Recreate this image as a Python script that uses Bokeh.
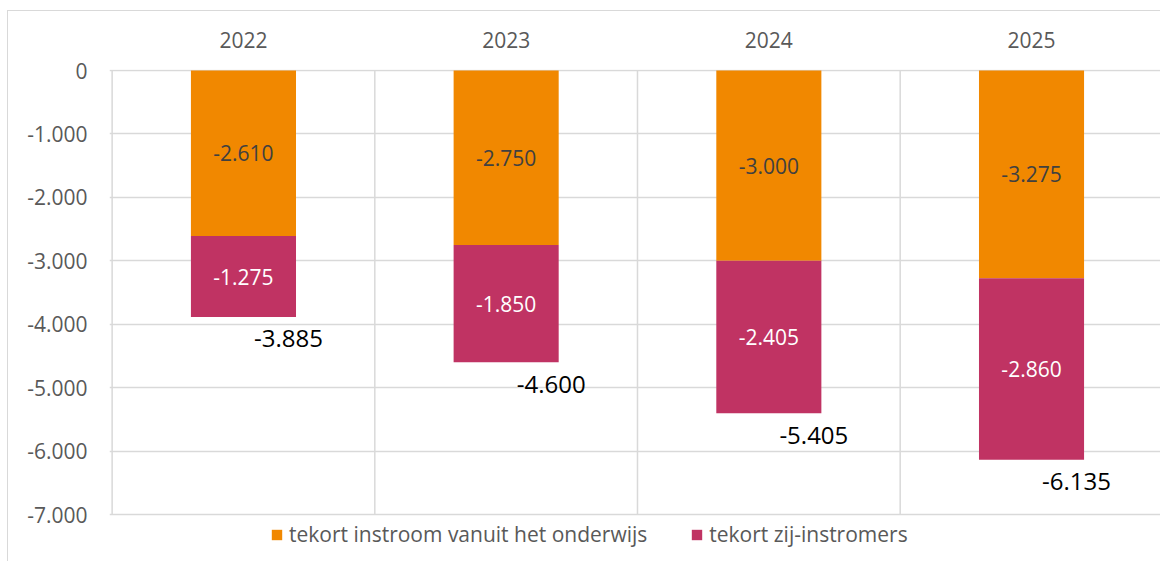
from bokeh.plotting import figure
from bokeh.models import ColumnDataSource, FixedTicker, Legend, LegendItem
from bokeh.core.properties import value
from bokeh.embed import file_html
from bokeh.resources import INLINE

years = ["2022", "2023", "2024", "2025"]
instroom = [-2610, -2750, -3000, -3275]
zij = [-1275, -1850, -2405, -2860]
totals = [-3885, -4600, -5405, -6135]
y_ticks = [0, -1000, -2000, -3000, -4000, -5000, -6000, -7000]
y_tick_labels = ["0", "-1.000", "-2.000", "-3.000", "-4.000", "-5.000", "-6.000", "-7.000"]
series_names = ["tekort instroom vanuit het onderwijs", "tekort zij-instromers"]

def fmt(v):
    return f"{v:,}".replace(",", ".")

xs = list(range(len(years)))
tops2 = [a + b for a, b in zip(instroom, zij)]
src = ColumnDataSource(dict(
    x=xs,
    instroom=instroom,
    zij_top=tops2,
    mid1=[a / 2 for a in instroom],
    mid2=[a + b / 2 for a, b in zip(instroom, zij)],
    lab1=[fmt(v) for v in instroom],
    lab2=[fmt(v) for v in zij],
    total=totals,
    labt=[fmt(v) for v in totals],
    zero=[0] * len(years),
))

# category boundary lines (vertical gridlines) from 0 down to the axis minimum
bounds = [i - 0.5 for i in xs]
grid_src = ColumnDataSource(dict(x=bounds, y0=[y_ticks[0]] * len(bounds),
                                 y1=[y_ticks[-1]] * len(bounds)))

FONT = "Open Sans"
GRAY = "#595959"
GRID = "#D9D9D9"
ORANGE = "#F18800"
MAGENTA = "#C03363"

p = figure(width=1160, height=561, output_backend="svg", toolbar_location=None,
           x_range=(-0.51, 3.491), y_range=(-7740.7, 16), x_axis_location="above",
           min_border_left=109, min_border_top=69, min_border_right=0, min_border_bottom=0)
p.outline_line_color = None
p.background_fill_color = "white"
p.border_fill_alpha = 0
p.styles = {
    "background-color": "white",
    "background-image": "linear-gradient(#D9D9D9,#D9D9D9), linear-gradient(#D9D9D9,#D9D9D9)",
    "background-position": "7px 10px, 7px 10px",
    "background-size": "1px 100%, 100% 1px",
    "background-repeat": "no-repeat",
}

p.segment(x0="x", y0="y0", x1="x", y1="y1", source=grid_src,
          line_color=GRID, line_width=1.5)

r1 = p.vbar(x="x", width=0.4, bottom="zero", top="instroom", source=src,
            fill_color=ORANGE, line_color=None)
r2 = p.vbar(x="x", width=0.4, bottom="instroom", top="zij_top", source=src,
            fill_color=MAGENTA, line_color=None)

p.text(x="x", y="mid1", text="lab1", source=src, text_font=value(FONT),
       text_font_size="21px", text_color="#404040", text_align="center",
       text_baseline="middle")
p.text(x="x", y="mid2", text="lab2", source=src, text_font=value(FONT),
       text_font_size="21px", text_color="white", text_align="center",
       text_baseline="middle")
p.text(x="x", y="total", text="labt", source=src, text_font=value(FONT),
       text_font_size="24px", text_color="black", text_align="center",
       text_baseline="middle", x_offset=45, y_offset=22)

# axes
xa = p.xaxis[0]
xa.ticker = FixedTicker(ticks=xs)
xa.major_label_overrides = {i: y for i, y in zip(xs, years)}
xa.axis_line_color = None
xa.major_tick_line_color = None
xa.minor_tick_line_color = None
xa.major_label_text_font = FONT
xa.major_label_text_font_size = "21px"
xa.major_label_text_color = GRAY
xa.major_label_standoff = 16

ya = p.yaxis[0]
ya.ticker = FixedTicker(ticks=y_ticks)
ya.major_label_overrides = {t: l for t, l in zip(y_ticks, y_tick_labels)}
ya.axis_line_color = None
ya.major_tick_line_color = None
ya.minor_tick_line_color = None
ya.major_label_text_font = FONT
ya.major_label_text_font_size = "21px"
ya.major_label_text_color = GRAY
ya.major_label_standoff = 16

p.ygrid.ticker = FixedTicker(ticks=y_ticks)
p.ygrid.grid_line_color = GRID
p.ygrid.grid_line_width = 1.5
p.xgrid.visible = False

legend = Legend(items=[LegendItem(label=series_names[0], renderers=[r1]),
                       LegendItem(label=series_names[1], renderers=[r2])],
                orientation="horizontal", location=(161, 13))
legend.glyph_width = 13
legend.glyph_height = 13
legend.label_text_font = FONT
legend.label_text_font_size = "21px"
legend.label_text_color = GRAY
legend.label_standoff = 6
legend.spacing = 43
legend.padding = 0
legend.margin = 0
legend.border_line_color = None
legend.background_fill_alpha = 0
p.add_layout(legend, "center")

open("out.html", "w").write(file_html(p, INLINE))
